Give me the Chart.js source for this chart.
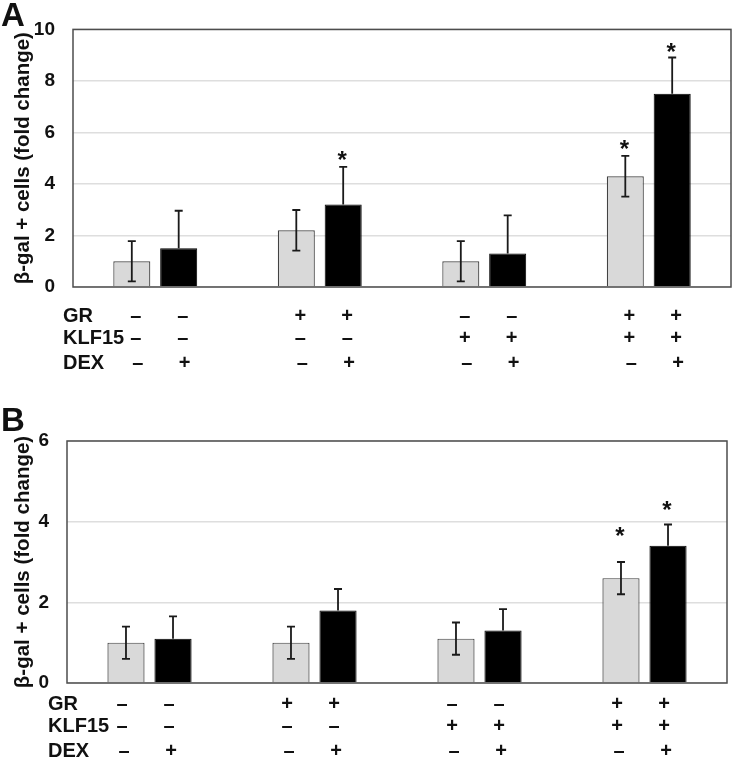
<!DOCTYPE html>
<html>
<head>
<meta charset="utf-8">
<script src="https://cdn.jsdelivr.net/npm/chart.js@4.4.0/dist/chart.umd.min.js"></script>
<style>
  body { margin: 0; background: #fff; width: 733px; height: 760px; position: relative; overflow: hidden;
         font-family: "Liberation Sans", Arial, sans-serif; }
  canvas { position: absolute; left: 0; }
  .tag { position: absolute; left: 1px; font-weight: bold; font-size: 33px; line-height: 30px; color: #111; }
</style>
</head>
<body>
<canvas id="chartA" width="733" height="385" style="top:0"></canvas>
<canvas id="chartB" width="733" height="380" style="top:380px"></canvas>
<div class="tag" style="top:0">A</div>
<div class="tag" style="top:405px">B</div>
<script>
// treatment groups (gray = no DEX, black = DEX)
const groups = ["control", "GR", "KLF15", "GR + KLF15"];
const rowNames = ["GR", "KLF15", "DEX"];
// one sign per bar, in bar order
const grRow    = ["–", "–", "+", "+", "–", "–", "+", "+"];
const klfRow   = ["–", "–", "–", "–", "+", "+", "+", "+"];
const dexRow   = ["–", "+", "–", "+", "–", "+", "–", "+"];

// panel A
const noDexA    = [1.0, 2.2, 1.0, 4.3];
const noDexErrA = [0.78, 0.79, 0.78, 0.79];
const dexA      = [1.5, 3.2, 1.3, 7.5];
const dexErrA   = [1.46, 1.46, 1.48, 1.41];
const starNoDexA = [null, null, null, 5.6];
const starDexA   = [null, 5.15, null, 9.35];
const ticksA = [0, 2, 4, 6, 8, 10];

// panel B
const noDexB    = [1.0, 1.0, 1.1, 2.6];
const noDexErrB = [0.4, 0.4, 0.4, 0.4];
const dexB      = [1.1, 1.8, 1.3, 3.4];
const dexErrB   = [0.55, 0.53, 0.53, 0.53];
const starNoDexB = [null, null, null, 3.8];
const starDexB   = [null, null, null, 4.45];
const ticksB = [0, 2, 4, 6];

const FONT = '"Liberation Sans", Arial, sans-serif';

const extras = {
  id: 'extras',
  afterDatasetsDraw(chart) {
    const ctx = chart.ctx, y = chart.scales.y, a = chart.chartArea;
    const o = chart.options.plugins.extras;
    ctx.save();
    // error bars and asterisks
    chart.data.datasets.forEach((ds, di) => {
      const meta = chart.getDatasetMeta(di);
      meta.data.forEach((bar, i) => {
        const v = ds.data[i], e = ds.err[i];
        const yt = y.getPixelForValue(v + e);
        const yb = ds.lower ? y.getPixelForValue(v - e) : y.getPixelForValue(v);
        ctx.strokeStyle = '#1a1a1a';
        ctx.lineWidth = 1.8;
        ctx.beginPath();
        ctx.moveTo(bar.x, yt); ctx.lineTo(bar.x, yb);
        ctx.moveTo(bar.x - 4, yt); ctx.lineTo(bar.x + 4, yt);
        if (ds.lower) { ctx.moveTo(bar.x - 4, yb); ctx.lineTo(bar.x + 4, yb); }
        ctx.stroke();
        if (ds.star[i] != null) {
          ctx.fillStyle = '#111';
          ctx.font = 'bold 24px ' + FONT;
          ctx.textAlign = 'center';
          ctx.textBaseline = 'alphabetic';
          ctx.fillText('*', bar.x - 1, y.getPixelForValue(ds.star[i]) + 14);
        }
      });
    });
    // plot frame
    ctx.strokeStyle = '#4d4d4d';
    ctx.lineWidth = 1.5;
    ctx.strokeRect(a.left, a.top, a.right - a.left, a.bottom - a.top);
    // treatment rows
    ctx.fillStyle = '#111';
    ctx.font = 'bold 20px ' + FONT;
    ctx.textBaseline = 'middle';
    [grRow, klfRow, dexRow].forEach((row, r) => {
      const ry = a.bottom + o.rowOffsets[r];
      ctx.textAlign = 'left';
      ctx.fillText(rowNames[r], o.labelX, ry);
      ctx.textAlign = 'center';
      row.forEach((s, k) => {
        const bar = chart.getDatasetMeta(k % 2).data[Math.floor(k / 2)];
        ctx.fillText(s, bar.x + o.signShift + (r === 2 ? 2 : 0), ry);
      });
    });
    ctx.restore();
  }
};

function makePanel(id, noDex, noDexErr, dex, dexErr, starNo, starDex, ticks, box, extra) {
  return new Chart(document.getElementById(id), {
    type: 'bar',
    data: {
      labels: groups,
      datasets: [
        { label: 'no DEX', data: noDex, err: noDexErr, star: starNo, lower: true,
          backgroundColor: '#d9d9d9', borderColor: '#404040', borderWidth: 1.2 },
        { label: 'DEX', data: dex, err: dexErr, star: starDex, lower: false,
          backgroundColor: '#000', borderColor: '#000', borderWidth: 1 }
      ]
    },
    options: {
      responsive: false,
      animation: false,
      layout: { padding: { left: 0, top: box.top, right: box.right, bottom: box.bottom } },
      plugins: { legend: { display: false }, tooltip: { enabled: false }, extras: extra },
      datasets: { bar: { categoryPercentage: 0.57, barPercentage: 0.79 } },
      scales: {
        x: { display: false },
        y: {
          min: 0, max: ticks[ticks.length - 1],
          afterFit(s) { s.width = box.left; },
          afterBuildTicks(s) { s.ticks = ticks.map(v => ({ value: v })); },
          border: { display: false },
          grid: { color: '#dedede', lineWidth: 1.5, drawTicks: false },
          ticks: { padding: 18, color: '#111', font: { family: FONT, size: 19, weight: 'bold' } },
          title: { display: true, text: 'β-gal + cells (fold change)', color: '#111',
                   padding: { top: 11, bottom: 0 }, font: { family: FONT, size: 20.5, weight: 'bold' } }
        }
      }
    },
    plugins: [extras]
  });
}

makePanel('chartA', noDexA, noDexErrA, dexA, dexErrA, starNoDexA, starDexA, ticksA,
  { left: 73, top: 20, right: 2, bottom: 98 },
  { rowOffsets: [29, 51, 76], labelX: 63, signShift: 4 });

makePanel('chartB', noDexB, noDexErrB, dexB, dexErrB, starNoDexB, starDexB, ticksB,
  { left: 67, top: 61, right: 6, bottom: 77 },
  { rowOffsets: [21, 43, 68], labelX: 48, signShift: -4 });
</script>
</body>
</html>
